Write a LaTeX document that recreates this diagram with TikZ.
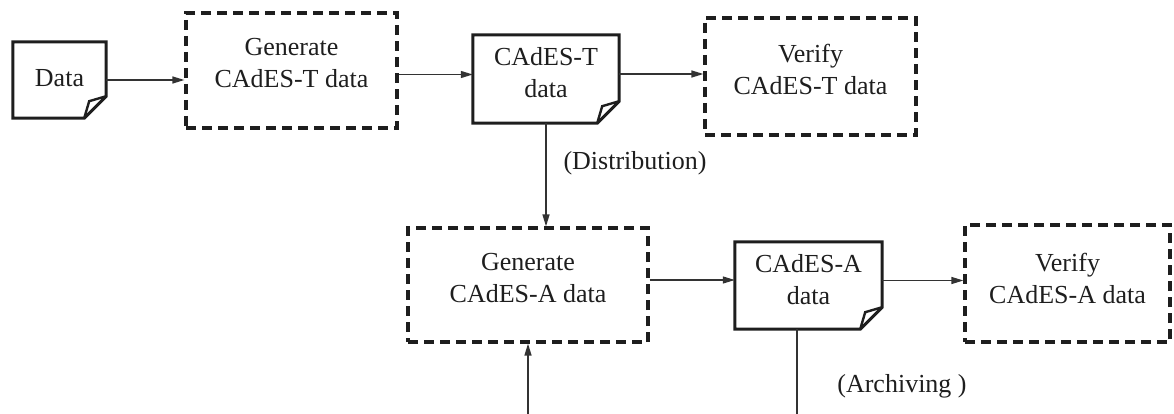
\documentclass[tikz,border=0pt]{standalone}
\usepackage{fontspec}
\setmainfont{Liberation Serif}
\usetikzlibrary{arrows.meta,calc}
\definecolor{ink}{HTML}{1E1E1E}
\definecolor{wire}{HTML}{333333}
\tikzset{
  txt/.style={font=\fontsize{26}{32}\selectfont, text=ink, align=center, inner sep=0pt},
  dbox/.style={draw=ink, line width=3.2pt, dash pattern=on 10pt off 6pt, rectangle, inner sep=0pt},
  docbox/.style={rectangle, inner sep=0pt},
  docline/.style={draw=ink, line width=3pt, line join=miter},
  flow/.style={draw=wire, line width=1.3pt, -{Triangle[length=12pt,width=7pt]}},
  plain/.style={draw=wire, line width=1.3pt},
}
\begin{document}
\begin{tikzpicture}[x=1pt,y=-1pt]
\useasboundingbox (0,0) rectangle (1174,414);
% boxes
\node[dbox, minimum width=211pt, minimum height=115pt] (genT) at (291.5,70.5) {};
\node[dbox, minimum width=211pt, minimum height=117pt] (verT) at (810.5,76.5) {};
\node[dbox, minimum width=240pt, minimum height=114pt] (genA) at (528,285) {};
\node[dbox, minimum width=205pt, minimum height=117pt] (verA) at (1067.5,283.5) {};
% documents
\node[docbox, minimum width=93pt, minimum height=76pt] (data) at (59.5,80) {};
\node[docbox, minimum width=146pt, minimum height=88pt] (cadT) at (546,79) {};
\node[docbox, minimum width=147pt, minimum height=87pt] (cadA) at (808.5,285.5) {};
\foreach \d in {data,cadT,cadA}{
  \draw[docline] (\d.south west) -- (\d.north west) -- (\d.north east)
    -- ($(\d.south east)+(0,22pt)$) -- ($(\d.south east)+(-22pt,0)$) -- cycle;
  \draw[docline, line width=2.4pt] ($(\d.south east)+(-22pt,0)$) -- ($(\d.south east)+(-17pt,17pt)$) -- ($(\d.south east)+(0,22pt)$);
}
% texts
\node[txt] (dataT) at (59.5,78.5) {Data};
\node[txt] (genTt) at (291.5,63.5) {Generate\\CAdES-T data};
\node[txt] (verTt) at (810.5,69.5) {Verify\\CAdES-T data};
\node[txt] (cadTt) at (546,73) {CAdES-T\\data};
\node[txt] (genAt) at (528,278) {Generate\\CAdES-A data};
\node[txt] (verAt) at (1067.5,278) {Verify\\CAdES-A data};
\node[txt] (cadAt) at (808.5,280) {CAdES-A\\data};
\node[txt] (distr) at (635,163) {(Distribution)};
\node[txt] (arch) at (902,386) {(Archiving )};
% connectors
\coordinate (arcEnd) at (797,414);
\coordinate (inStart) at (528,414);
\draw[flow] (data.east) -- (data.east -| genT.west);
\draw[flow] ([yshift=-4pt]genT.east) -- ([yshift=-4pt]genT.east -| cadT.west);
\draw[flow] ([yshift=5pt]cadT.east) -- ([yshift=5pt]cadT.east -| verT.west);
\draw[flow] (cadT.south) -- (cadT.south |- genA.north);
\draw[flow] ([yshift=5pt]genA.east) -- ([yshift=5pt]genA.east -| cadA.west);
\draw[flow] ([yshift=5pt]cadA.east) -- ([yshift=5pt]cadA.east -| verA.west);
\draw[plain] (arcEnd |- cadA.south) -- (arcEnd);
\draw[flow] (inStart) -- (genA.south);
\end{tikzpicture}
\end{document}
